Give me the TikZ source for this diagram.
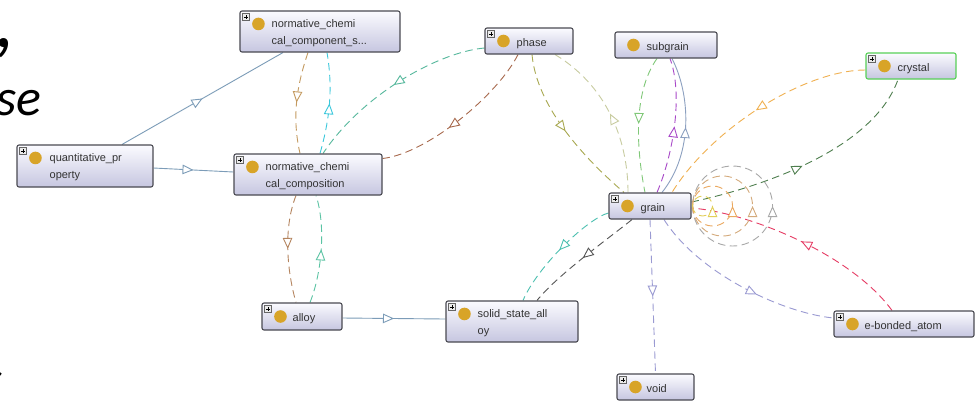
\documentclass[tikz,border=0pt]{standalone}
\usepackage{fontspec}
\setmainfont{Liberation Sans}
\newfontfamily\slidefont{Carlito}
\usetikzlibrary{arrows.meta,decorations.markings,calc}
\definecolor{nodeborder}{HTML}{4A4A52}
\definecolor{nodetop}{HTML}{FBFBFF}
\definecolor{nodebot}{HTML}{C6C6E0}
\definecolor{goldball}{HTML}{D8A428}
\definecolor{labeltext}{HTML}{333333}
\definecolor{solidedge}{HTML}{7C9CB8}
\definecolor{cTan}{HTML}{C49A60}
\definecolor{cCyan}{HTML}{3CC8DC}
\definecolor{cTeal}{HTML}{55B89C}
\definecolor{cBrown}{HTML}{A86A4E}
\definecolor{cOlive}{HTML}{A8A850}
\definecolor{cPale}{HTML}{C8CCA0}
\definecolor{cGreen}{HTML}{80C878}
\definecolor{cPurple}{HTML}{A848C8}
\definecolor{cBlueSolid}{HTML}{8CA0C0}
\definecolor{cOrange}{HTML}{F0B050}
\definecolor{cDarkGreen}{HTML}{4E7E4E}
\definecolor{cPink}{HTML}{E63C64}
\definecolor{cLav}{HTML}{9A9AD2}
\definecolor{cTealB}{HTML}{4CC0B0}
\definecolor{cDark}{HTML}{555555}
\definecolor{cBrownB}{HTML}{B4845E}
\definecolor{cTealC}{HTML}{5CC4A4}
\definecolor{loopA}{HTML}{E2CF58}
\definecolor{loopB}{HTML}{EBA85E}
\definecolor{loopC}{HTML}{D4AA7C}
\definecolor{loopD}{HTML}{A8A8A8}
\definecolor{crystalborder}{HTML}{58D058}
\pgfdeclarelayer{bg}
\pgfdeclarelayer{edges}
\pgfsetlayers{bg,edges,main}
\tikzset{
  cls/.style={draw=nodeborder, line width=1.1pt, rounded corners=2pt,
    top color=nodetop, bottom color=nodebot, inner sep=0pt},
  lbl/.style={inner sep=0pt, font=\fontsize{11}{17}\selectfont, text=labeltext, align=left},
  rel/.style={line width=0.9pt, dash pattern=on 7.5pt off 4.5pt},
  sub/.style={line width=0.9pt, color=solidedge},
  mid/.style={postaction={decorate}, decoration={markings,
    mark=at position #1 with {\arrow{Triangle[length=11pt,width=9.5pt,fill=white]}}}},
  mid/.default=0.5,
  plusbox/.pic={
    \draw[draw=black!60, fill=black!8, line width=0.5pt] (3,3) rectangle (10,10);
    \draw[line width=0.7pt, black] (4.6,6.5) -- (8.4,6.5) (6.5,4.6) -- (6.5,8.4);
  },
  slide/.style={inner sep=0pt, font=\slidefont\itshape\fontsize{52}{56}\selectfont}
}
\begin{document}
\begin{tikzpicture}[x=1pt,y=-1pt]
\useasboundingbox (0,0) rectangle (976,400);
\begin{pgfonlayer}{bg}
\fill[white] (0,0) rectangle (976,400);
\end{pgfonlayer}

% slide text fragments at the left edge
\node[slide, anchor=base east, font=\slidefont\itshape\fontsize{80}{80}\selectfont] (fragA) at (16,47) {,};
\node[slide, anchor=base west] (fragB) at (-4,115) {se};
\node[slide, anchor=base east] (fragC) at (3,396) {s};

% class nodes
\node[cls, minimum width=160, minimum height=41] (ncc) at (320,31.5) {};
\node[cls, minimum width=88, minimum height=26] (phase) at (529,41) {};
\node[cls, minimum width=148, minimum height=41] (ncomp) at (308,174.5) {};
\node[cls, minimum width=136, minimum height=42] (qp) at (85,166) {};
\node[cls, minimum width=102, minimum height=26] (subgrain) at (666,45) {};
\node[cls, draw=crystalborder, minimum width=90, minimum height=26] (crystal) at (911,66) {};
\node[cls, minimum width=82, minimum height=26] (grain) at (650,206) {};
\node[cls, minimum width=140, minimum height=26] (ebond) at (904,324) {};
\node[cls, minimum width=77, minimum height=26] (void) at (655.5,387) {};
\node[cls, minimum width=80, minimum height=27] (alloy) at (302,316.5) {};
\node[cls, minimum width=132, minimum height=41] (ssa) at (512,321.5) {};

% icons
\foreach \n in {ncc,phase,ncomp,qp,crystal,grain,ebond,void,alloy,ssa}{
  \pic at (\n.north west) {plusbox};
}
\foreach \n in {ncc,ncomp,qp,ssa}{
  \fill[goldball] ([shift={(19,13.5)}]\n.north west) circle (6.3pt);
}
\foreach \n in {phase,subgrain,crystal,grain,ebond,void,alloy}{
  \fill[goldball] ([shift={(19,0)}]\n.west) circle (6.3pt);
}

% labels
\node[lbl, anchor=west] (ncc-t) at ([shift={(32,1.5)}]ncc.west) {normative\_chemi\\cal\_component\_s...};
\node[lbl, anchor=west] (ncomp-t) at ([shift={(32,1.5)}]ncomp.west) {normative\_chemi\\cal\_composition};
\node[lbl, anchor=west] (qp-t) at ([shift={(33,1.5)}]qp.west) {quantitative\_pr\\operty};
\node[lbl, anchor=west] (ssa-t) at ([shift={(32,1.5)}]ssa.west) {solid\_state\_all\\oy};
\node[lbl, anchor=base west] (phase-t) at ([shift={(32,5)}]phase.west) {phase};
\node[lbl, anchor=base west] (subgrain-t) at ([shift={(32,5)}]subgrain.west) {subgrain};
\node[lbl, anchor=base west] (crystal-t) at ([shift={(32,5)}]crystal.west) {crystal};
\node[lbl, anchor=base west] (grain-t) at ([shift={(32,5)}]grain.west) {grain};
\node[lbl, anchor=base west] (ebond-t) at ([shift={(31,5)}]ebond.west) {e-bonded\_atom};
\node[lbl, anchor=base west] (void-t) at ([shift={(30,5)}]void.west) {void};
\node[lbl, anchor=base west] (alloy-t) at ([shift={(31,5)}]alloy.west) {alloy};

\begin{pgfonlayer}{edges}
% subclass (solid) edges
\draw[sub, mid] ([shift={(37,0)}]qp.north) -- ([shift={(-37,0)}]ncc.south);
\draw[sub, mid] ([shift={(0,2)}]qp.east) -- ([shift={(0,-2.5)}]ncomp.west);
\draw[sub, mid] ([shift={(0,1.5)}]alloy.east) -- ([shift={(0,-2.5)}]ssa.west);

% property (dashed) edges
\draw[rel, color=cTan, mid] ([shift={(-12,0)}]ncc.south) .. controls +(-12,35) and +(-8,-35) .. ([shift={(-8,0)}]ncomp.north);
\draw[rel, color=cCyan, mid] ([shift={(12,0)}]ncomp.north) .. controls +(10,-35) and +(6,35) .. ([shift={(7,0)}]ncc.south);
\draw[rel, color=cTeal, mid] ([shift={(0,7)}]phase.west) .. controls +(-45,4) and +(40,-60) .. ([shift={(15,0)}]ncomp.north);
\draw[rel, color=cBrown, mid=0.58] ([shift={(-11,0)}]phase.south) .. controls +(-20,40) and +(45,-5) .. ([shift={(0,-16)}]ncomp.east);
\draw[rel, color=cOlive, mid] ([shift={(3,0)}]phase.south) .. controls +(5,55) and +(-35,-30) .. ([shift={(-26,0)}]grain.north);
\draw[rel, color=cPale, mid] ([shift={(-22,0)}]grain.north) .. controls +(0,-55) and +(50,30) .. ([shift={(26,0)}]phase.south);
\draw[rel, color=cGreen, mid] ([shift={(-9,0)}]subgrain.south) .. controls +(-25,35) and +(-8,-40) .. ([shift={(-5,0)}]grain.north);
\draw[rel, color=cPurple, mid] ([shift={(7,0)}]grain.north) .. controls +(17,-40) and +(13,35) .. ([shift={(4,0)}]subgrain.south);
\draw[sub, color=cBlueSolid, mid] ([shift={(12,0)}]grain.north) .. controls +(32,-40) and +(18,35) .. ([shift={(6,0)}]subgrain.south);
\draw[rel, color=cOrange, mid] ([shift={(0,4)}]crystal.west) .. controls +(-60,0) and +(40,-65) .. ([shift={(22,0)}]grain.north);
\draw[rel, color=cDarkGreen, mid=0.47] ([shift={(0,-4)}]grain.east) .. controls +(70,-15) and +(-25,70) .. ([shift={(-13,0)}]crystal.south);
\draw[rel, color=cPink, mid] ([shift={(-12,0)}]ebond.north) .. controls +(-40,-55) and +(60,5) .. ([shift={(0,2)}]grain.east);
\draw[rel, color=cLav, mid=0.6] ([shift={(14,0)}]grain.south) .. controls +(35,55) and +(-50,-5) .. ([shift={(0,-6)}]ebond.west);
\draw[rel, color=cLav, mid] (grain.south) -- (void.north);
\draw[rel, color=cTealB, mid] ([shift={(0,7)}]grain.west) .. controls +(-20,5) and +(15,-35) .. ([shift={(11,0)}]ssa.north);
\draw[rel, color=cDark, mid] ([shift={(-18,0)}]grain.south) .. controls +(-25,20) and +(20,-25) .. ([shift={(25,0)}]ssa.north);
\draw[rel, color=cBrownB, mid] ([shift={(-12,0)}]ncomp.south) .. controls +(-12,30) and +(-10,-35) .. ([shift={(-6,0)}]alloy.north);
\draw[rel, color=cTealC, mid] ([shift={(8,0)}]alloy.north) .. controls +(12,-30) and +(10,30) .. ([shift={(8,0)}]ncomp.south);

% self loops on grain
\draw[rel, color=loopD, mid] ([shift={(1,0)}]grain.east) arc[start angle=180, end angle=-180, radius=40];
\draw[rel, color=loopC, mid] ([shift={(1,0)}]grain.east) arc[start angle=180, end angle=-180, radius=30];
\draw[rel, color=loopB, mid] ([shift={(1,0)}]grain.east) arc[start angle=180, end angle=-180, radius=20];
\draw[rel, color=loopA, mid] ([shift={(1,0)}]grain.east) arc[start angle=180, end angle=-180, radius=10];
\end{pgfonlayer}
\end{tikzpicture}
\end{document}
